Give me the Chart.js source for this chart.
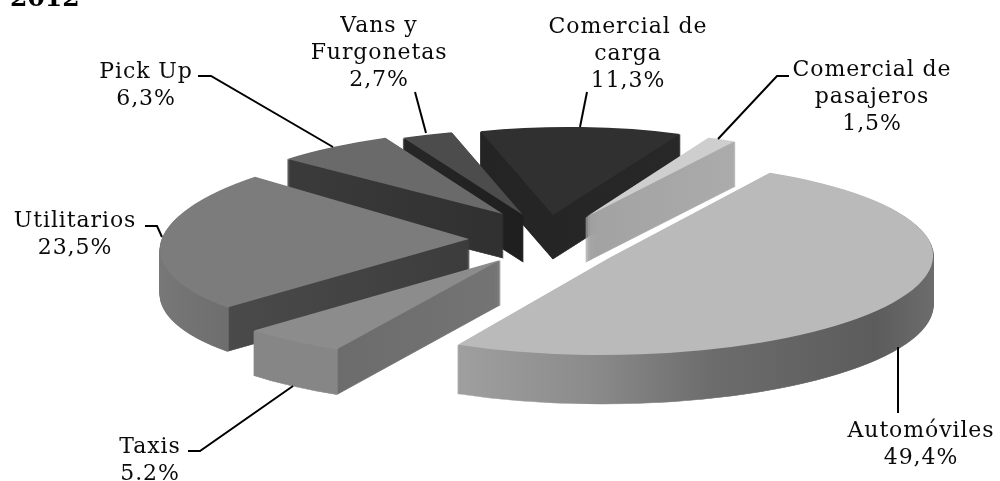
<!DOCTYPE html>
<html>
<head>
<meta charset="utf-8">
<script src="https://cdn.jsdelivr.net/npm/chart.js@4"></script>
<style>
    html, body { margin: 0; padding: 0; background: #fff; }
    canvas { display: block; }
</style>
</head>
<body>
<canvas id="myChart" width="1000" height="481"></canvas>
<script>
// data
var chartTitle = "2012";
var categories = ["Comercial de pasajeros", "Automóviles", "Taxis", "Utilitarios", "Pick Up", "Vans y Furgonetas", "Comercial de carga"];
var values = [1.5, 49.4, 5.2, 23.5, 6.3, 2.7, 11.3];
var valueLabels = ["1,5%", "49,4%", "5.2%", "23,5%", "6,3%", "2,7%", "11,3%"];
var labelLines = [["Comercial de", "pasajeros"], ["Automóviles"], ["Taxis"], ["Utilitarios"], ["Pick Up"], ["Vans y", "Furgonetas"], ["Comercial de", "carga"]];

// look of the slices
var faceColors = ["#cecece", "#bababa", "#8c8c8c", "#7c7c7c", "#6a6a6a", "#4c4c4c", "#303030"];
var firstAngle = 23;
var drawOrder = [6, 5, 4, 0, 3, 2, 1];

// where each exploded slice sits on the tilted plate: apex, radii, skew, wall height, wall shading by page x
var slicePlace = [
    { ax: 586, ay: 217, rx: 313, ry: 86, skew: 0, depth: 45, wall: [[586, "#a2a2a2"], [733, "#ababab"]] },
    { ax: 609, ay: 258, rx: 324, ry: 97, skew: -0.08, depth: 49, wall: [[460, "#a0a0a0"], [600, "#8b8b8b"], [720, "#6c6c6c"], [880, "#5c5c5c"], [933, "#6c6c6c"]] },
    { ax: 500, ay: 260, rx: 327, ry: 100, skew: -0.2, depth: 45, wall: [[254, "#868686"], [355, "#868686"], [356, "#6c6c6c"], [500, "#747474"]] },
    { ax: 469, ay: 239, rx: 307, ry: 97, skew: -0.35, depth: 44, wall: [[160, "#787878"], [252, "#6e6e6e"], [253, "#4a4a4a"], [472, "#3c3c3c"]] },
    { ax: 503, ay: 214, rx: 300, ry: 86, skew: -0.27, depth: 44, wall: [[289, "#3a3a3a"], [503, "#303030"]] },
    { ax: 523, ay: 215, rx: 300, ry: 87, skew: -0.24, depth: 47, wall: [[403, "#262626"], [523, "#1e1e1e"]] },
    { ax: 553, ay: 215, rx: 288, ry: 88, skew: -0.18, depth: 44, wall: [[480, "#242424"], [680, "#282828"]] }
];

// label centre x and first baseline, and the leader that goes with it
var labelPlace = [
    { x: 872, y: 76, leader: [[789, 76], [777, 76], [718, 139]] },
    { x: 921, y: 437, leader: [[898, 347], [898, 413]] },
    { x: 150, y: 453, leader: [[188, 451], [200, 451], [293, 386]] },
    { x: 75, y: 227, leader: [[145, 226], [157, 226], [162, 237]] },
    { x: 146, y: 78, leader: [[198, 76], [211, 76], [333, 147]] },
    { x: 379, y: 32, leader: [[415, 92], [426, 133]] },
    { x: 628, y: 33, leader: [[587, 92], [580, 127]] }
];

var labelFont = "22px 'DejaVu Serif'";
var labelSpacing = "0.9px";
var labelLineHeight = 27;

function wallFill(ctx, arc, place) {
    // gradient stops are given in page x, turned into the arc's own x here
    var k = arc.outerRadius / place.rx;
    var first = place.wall[0][0];
    var last = place.wall[place.wall.length - 1][0];
    var g = ctx.createLinearGradient(arc.x + (first - place.ax) * k, 0, arc.x + (last - place.ax) * k, 0);
    place.wall.forEach(function (stop) {
        g.addColorStop((stop[0] - first) / (last - first), stop[1]);
    });
    return g;
}

function plainOptions(color) {
    return {
        backgroundColor: color, borderColor: color, borderWidth: 1, borderAlign: "center",
        borderRadius: 0, borderJoinStyle: "round", borderDash: [], borderDashOffset: 0,
        offset: 0, spacing: 0, circular: true
    };
}

function drawTilted(ctx, arc, place, lift) {
    var kx = place.rx / arc.outerRadius;
    var ky = place.ry / arc.outerRadius;
    ctx.save();
    ctx.transform(kx, 0, place.skew * ky, ky, place.ax, place.ay + lift);
    ctx.translate(-arc.x, -arc.y);
    arc.draw(ctx);
    ctx.restore();
}

var tiltedPie = {
    id: "tiltedPie",
    beforeDatasetsDraw: function (chart) {
        var ctx = chart.ctx;
        var arcs = chart.getDatasetMeta(0).data;
        drawOrder.forEach(function (i) {
            var arc = arcs[i];
            var place = slicePlace[i];
            var ownOptions = arc.options;
            arc.options = plainOptions(wallFill(ctx, arc, place));
            for (var d = place.depth; d >= 1; d--) {
                drawTilted(ctx, arc, place, d);
            }
            arc.options = ownOptions;
            drawTilted(ctx, arc, place, 0);
        });
        return false;
    },
    afterDraw: function (chart) {
        var ctx = chart.ctx;
        ctx.save();
        ctx.strokeStyle = "#000";
        ctx.lineWidth = 2;
        ctx.fillStyle = "#0a0a0a";
        ctx.font = labelFont;
        ctx.letterSpacing = labelSpacing;
        ctx.textAlign = "center";
        ctx.textBaseline = "alphabetic";
        labelPlace.forEach(function (place, i) {
            ctx.beginPath();
            place.leader.forEach(function (p, n) {
                if (n === 0) {
                    ctx.moveTo(p[0], p[1]);
                } else {
                    ctx.lineTo(p[0], p[1]);
                }
            });
            ctx.stroke();
            labelLines[i].concat(valueLabels[i]).forEach(function (line, n) {
                ctx.fillText(line, place.x, place.y + n * labelLineHeight);
            });
        });
        ctx.restore();
    }
};

var ctx = document.getElementById("myChart").getContext("2d");
window.myChart = new Chart(ctx, {
    type: "pie",
    plugins: [tiltedPie],
    data: {
        labels: categories,
        datasets: [{
            data: values,
            backgroundColor: faceColors,
            borderWidth: 0
        }]
    },
    options: {
        responsive: false,
        animation: false,
        rotation: firstAngle,
        layout: { padding: { left: 10 } },
        plugins: {
            legend: { display: false },
            tooltip: { enabled: false },
            title: {
                display: true,
                text: chartTitle,
                align: "start",
                color: "#000",
                font: { family: "'DejaVu Serif'", size: 25, weight: "bold" },
                padding: { top: -16, bottom: 0 }
            }
        }
    }
});
</script>
</body>
</html>
